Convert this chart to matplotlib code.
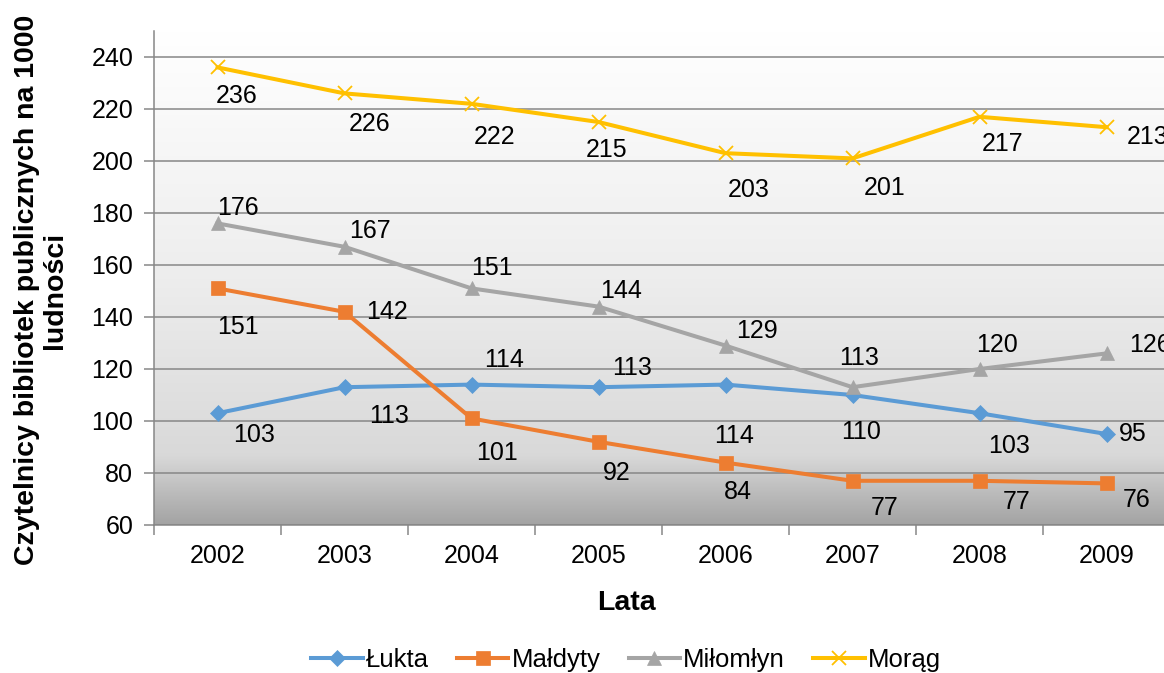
import numpy as np
import matplotlib
matplotlib.use("Agg")
import matplotlib.pyplot as plt
from matplotlib.colors import LinearSegmentedColormap

years = ["2002", "2003", "2004", "2005", "2006", "2007", "2008", "2009"]
lukta = [103, 113, 114, 113, 114, 110, 103, 95]
maldyty = [151, 142, 101, 92, 84, 77, 77, 76]
milomlyn = [176, 167, 151, 144, 129, 113, 120, 126]
morag = [236, 226, 222, 215, 203, 201, 217, 213]
series_names = ["Łukta", "Małdyty", "Miłomłyn", "Morąg"]
y_ticks = [60, 80, 100, 120, 140, 160, 180, 200, 220, 240]

# label offsets (pixels, x right / y up) for data labels
offs_lukta = [(37, -22), (45, -29), (33, 25), (34, 19), (9, -51), (9, -37), (30, -33), (26, 0)]
offs_maldyty = [(20, -39), (43, 0), (25, -35), (18, -31), (12, -29), (32, -27), (37, -21), (30, -17)]
offs_milomlyn = [(20, 15), (25, 16), (20, 20), (23, 16), (31, 15), (7, 29), (17, 24), (43, 8)]
offs_morag = [(19, -29), (25, -31), (23, -33), (8, -28), (23, -37), (32, -30), (23, -27), (41, -10)]

plt.rcParams['font.family'] = ['Liberation Sans', 'DejaVu Sans']
FS = 18

fig = plt.figure(figsize=(11.64, 6.73), dpi=100)
ax = fig.add_axes([154/1164, 1 - 525/673, (1170 - 154)/1164, (525 - 31)/673])

x = np.arange(len(years))

# gradient background (white at top to gray at bottom)
cmap = LinearSegmentedColormap.from_list(
    "bg", [(0.0, (1, 1, 1)), (0.5, (0.93, 0.93, 0.93)), (0.86, (0.85, 0.85, 0.85)), (1.0, (0.64, 0.64, 0.64))])
grad = np.linspace(0, 1, 256).reshape(-1, 1)
ax.imshow(grad, aspect='auto', cmap=cmap, extent=[-0.5, len(years) - 0.5, 60, 250],
          origin='upper', zorder=0, interpolation='bilinear')
ax.set_xlim(-0.5, len(years) - 0.5)
ax.set_ylim(60, 250)

for yv in y_ticks:
    ax.axhline(yv, color='#878787', lw=1.1, zorder=1)

styles = [
    (lukta, '#5B9BD5', 'D', 8.5, offs_lukta),
    (maldyty, '#ED7D31', 's', 9.5, offs_maldyty),
    (milomlyn, '#A5A5A5', '^', 10.5, offs_milomlyn),
    (morag, '#FFC000', 'x', 10, offs_morag),
]
for (vals, col, mk, ms, offs), name in zip(styles, series_names):
    ax.plot(x, vals, color=col, lw=2.9, marker=mk, markersize=ms,
            markeredgewidth=1.3 if mk == 'x' else 0.5, markeredgecolor=col,
            label=name, zorder=3, clip_on=False)
    for xi, v, (dx, dy) in zip(x, vals, offs):
        ax.annotate(str(v), (xi, v), xytext=(dx, dy), textcoords='offset pixels',
                    ha='center', va='center', fontsize=FS, color='black', zorder=4,
                    annotation_clip=False)

ax.set_yticks(y_ticks)
ax.set_yticklabels([str(t) for t in y_ticks], fontsize=FS)
ax.set_xticks(x)
ax.set_xticklabels(years, fontsize=FS)
ax.set_xticks(np.arange(-0.5, len(years), 1.0), minor=True)
ax.tick_params(axis='x', which='major', length=0, pad=14)
ax.tick_params(axis='x', which='minor', length=7, color='#878787', width=1.1)
ax.tick_params(axis='y', which='major', length=7, color='#878787', width=1.1, pad=8)

for s in ['top', 'right']:
    ax.spines[s].set_visible(False)
for s in ['left', 'bottom']:
    ax.spines[s].set_color('#878787')
    ax.spines[s].set_linewidth(1.1)

fig.text(626/1164, 1 - 603/673, "Lata", ha='center', va='center', fontsize=20.5, fontweight='bold')
fig.text(41/1164, 1 - 290/673, "Czytelnicy bibliotek publicznych na 1000\nludności",
         ha='center', va='center', rotation=90, fontsize=20.5, fontweight='bold',
         multialignment='center', linespacing=1.05)

leg = fig.legend(loc='center', bbox_to_anchor=(626/1164, 1 - 660/673), ncol=4, frameon=False,
                 fontsize=18.5, handlelength=2.0, handletextpad=0.12, columnspacing=1.1)

fig.savefig("out.png", dpi=100)
